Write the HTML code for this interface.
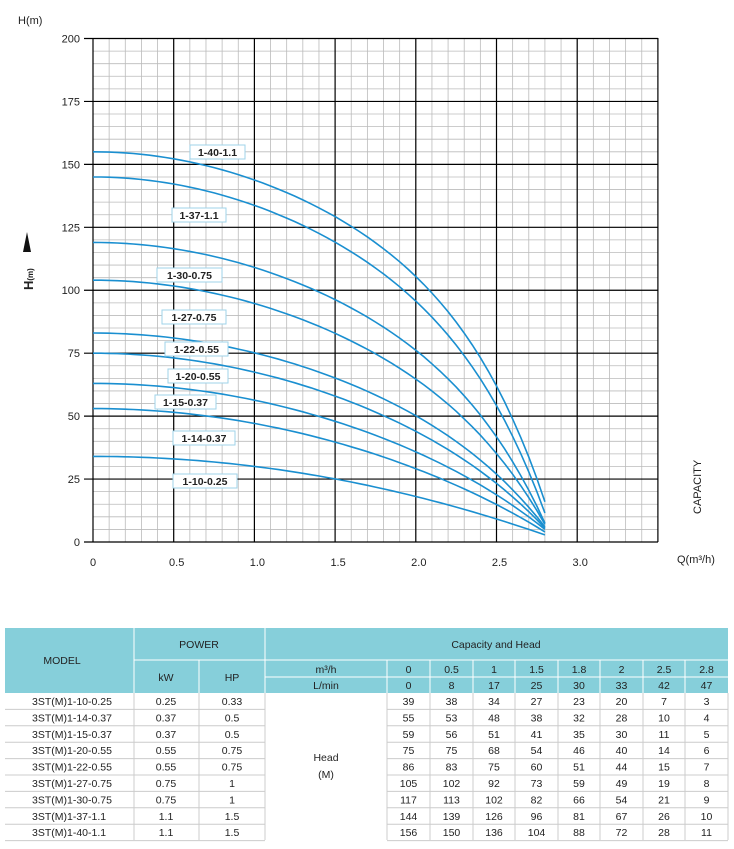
<!DOCTYPE html>
<html><head><meta charset="utf-8"><style>
body{margin:0;background:#fff;width:734px;height:849px;overflow:hidden;font-family:"Liberation Sans",sans-serif;}
svg{position:absolute;left:0;top:0}
</style></head><body>
<svg id="s" width="734" height="849" xmlns="http://www.w3.org/2000/svg" font-family="Liberation Sans, sans-serif"></svg>
<script>
var s=document.getElementById('s'),h='';
var X=function(q){return 93+q*161.4},Y=function(v){return 542-v*2.5175};
for(var i=0;i<=35;i++){var x=93+i*80.7/5;h+='<line x1="'+x+'" y1="38" x2="'+x+'" y2="542" stroke="#bbb" stroke-width="0.8"/>';}
for(var i=0;i<=40;i++){var y=542-i*503.5/40;h+='<line x1="93" y1="'+y+'" x2="658" y2="'+y+'" stroke="#bbb" stroke-width="0.8"/>';}
for(var i=0;i<=7;i++){var x=93+i*80.7;h+='<line x1="'+x+'" y1="38" x2="'+x+'" y2="542" stroke="#000" stroke-width="1.2"/>';}
for(var i=0;i<=8;i++){var y=542-i*62.94;h+='<line x1="84" y1="'+y+'" x2="658" y2="'+y+'" stroke="#000" stroke-width="1.2"/>';
h+='<text x="80" y="'+(y+4)+'" font-size="11" text-anchor="end" fill="#222">'+(i*25)+'</text>';}
var xl=['0','0.5','1.0','1.5','2.0','2.5','3.0'];
for(var i=0;i<7;i++)h+='<text x="'+(93+i*80.7+(i==0?0:3))+'" y="566" font-size="11" text-anchor="middle" fill="#222">'+xl[i]+'</text>';
h+='<text x="18" y="24" font-size="11" fill="#222">H(m)</text>';
h+='<text x="677" y="563" font-size="11" fill="#222">Q(m³/h)</text>';
h+='<text transform="translate(701,514) rotate(-90)" font-size="11" fill="#222">CAPACITY</text>';
h+='<text transform="translate(33,290) rotate(-90)" font-size="13" font-weight="bold" fill="#222">H<tspan font-size="8">(m)</tspan></text>';
h+='<polygon points="23,252 27,232 31,252" fill="#111"/>';
var D=[[34,3],[53,4],[63,5],[75,5.5],[83,6],[104,7],[119,7.5],[145,11.5],[155,16]];
D.forEach(function(d,idx){var t=idx/8,H0=d[0],e=d[1];
var a=0.117-0.045*t,b=Math.max(0,((1-e/H0)-a*7.84)/Math.pow(2.8,7)),p='';
for(var j=0;j<=56;j++){var q=j*0.05,v=H0*(1-a*q*q-b*Math.pow(q,7));p+=(j?' L':'M')+X(q).toFixed(1)+','+Y(v).toFixed(1);}
h+='<path d="'+p+'" fill="none" stroke="#1a8fd0" stroke-width="1.6"/>';});
var L=[['1-40-1.1',190,145,55],['1-37-1.1',172,208,54],['1-30-0.75',157,268,65],['1-27-0.75',162,310,64],['1-22-0.55',165,342,63],['1-20-0.55',168,369,60],['1-15-0.37',155,395,61],['1-14-0.37',173,431,62],['1-10-0.25',173,474,64]];
L.forEach(function(l){h+='<rect x="'+l[1]+'" y="'+l[2]+'" width="'+l[3]+'" height="14" fill="#fff" stroke="#9fd3ea" stroke-width="1"/><text x="'+(l[1]+l[3]/2)+'" y="'+(l[2]+11)+'" font-size="10.5" font-weight="bold" text-anchor="middle" fill="#222">'+l[0]+'</text>';});
var hc='#86cfda',gc='#ccc';
h+='<rect x="5" y="628" width="723" height="65" fill="'+hc+'"/>';
h+='<line x1="134" y1="628" x2="134" y2="840" stroke="#fff" stroke-width="1"/><line x1="265" y1="628" x2="265" y2="840" stroke="#fff" stroke-width="1"/>';
h+='<line x1="134" y1="660" x2="728" y2="660" stroke="#fff"/><line x1="265" y1="677" x2="728" y2="677" stroke="#fff"/>';
h+='<line x1="199" y1="660" x2="199" y2="840" stroke="#fff"/>';
var cb=[387,430,473,515,558,600,643,685,728];
for(var i=0;i<8;i++)h+='<line x1="'+cb[i]+'" y1="660" x2="'+cb[i]+'" y2="840" stroke="#fff"/>';
h+='<line x1="134" y1="693" x2="134" y2="840" stroke="'+gc+'"/><line x1="199" y1="693" x2="199" y2="840" stroke="'+gc+'"/><line x1="265" y1="693" x2="265" y2="840" stroke="'+gc+'"/>';
for(var i=0;i<9;i++)h+='<line x1="'+cb[i]+'" y1="693" x2="'+cb[i]+'" y2="840" stroke="'+gc+'"/>';
var rh=16.4;
for(var r=1;r<=9;r++){var y=693+r*rh;h+='<line x1="5" y1="'+y+'" x2="265" y2="'+y+'" stroke="'+gc+'"/><line x1="387" y1="'+y+'" x2="728" y2="'+y+'" stroke="'+gc+'"/>';}
var t=function(x,y,s,a){h+='<text x="'+x+'" y="'+y+'" font-size="10.5" text-anchor="'+(a||'middle')+'" fill="#222">'+s+'</text>';};
t(62,664,'MODEL');t(199,648,'POWER');t(166,681,'kW');t(232,681,'HP');t(496,648,'Capacity and Head');
t(326,673,'m³/h');t(326,689,'L/min');
var m3=['0','0.5','1','1.5','1.8','2','2.5','2.8'],lm=['0','8','17','25','30','33','42','47'];
for(var i=0;i<8;i++){var cx=(cb[i]+cb[i+1])/2;t(cx,673,m3[i]);t(cx,689,lm[i]);}
var M=[['3ST(M)1-10-0.25','0.25','0.33'],['3ST(M)1-14-0.37','0.37','0.5'],['3ST(M)1-15-0.37','0.37','0.5'],['3ST(M)1-20-0.55','0.55','0.75'],['3ST(M)1-22-0.55','0.55','0.75'],['3ST(M)1-27-0.75','0.75','1'],['3ST(M)1-30-0.75','0.75','1'],['3ST(M)1-37-1.1','1.1','1.5'],['3ST(M)1-40-1.1','1.1','1.5']];
var V=[[39,38,34,27,23,20,7,3],[55,53,48,38,32,28,10,4],[59,56,51,41,35,30,11,5],[75,75,68,54,46,40,14,6],[86,83,75,60,51,44,15,7],[105,102,92,73,59,49,19,8],[117,113,102,82,66,54,21,9],[144,139,126,96,81,67,26,10],[156,150,136,104,88,72,28,11]];
for(var r=0;r<9;r++){var y=693+r*rh+12;t(32,y,M[r][0],'start');t(166,y,M[r][1]);t(232,y,M[r][2]);
for(var i=0;i<8;i++)t((cb[i]+cb[i+1])/2,y,V[r][i]);}
t(326,761,'Head');t(326,778,'(M)');
s.innerHTML=h;
</script>
</body></html>
